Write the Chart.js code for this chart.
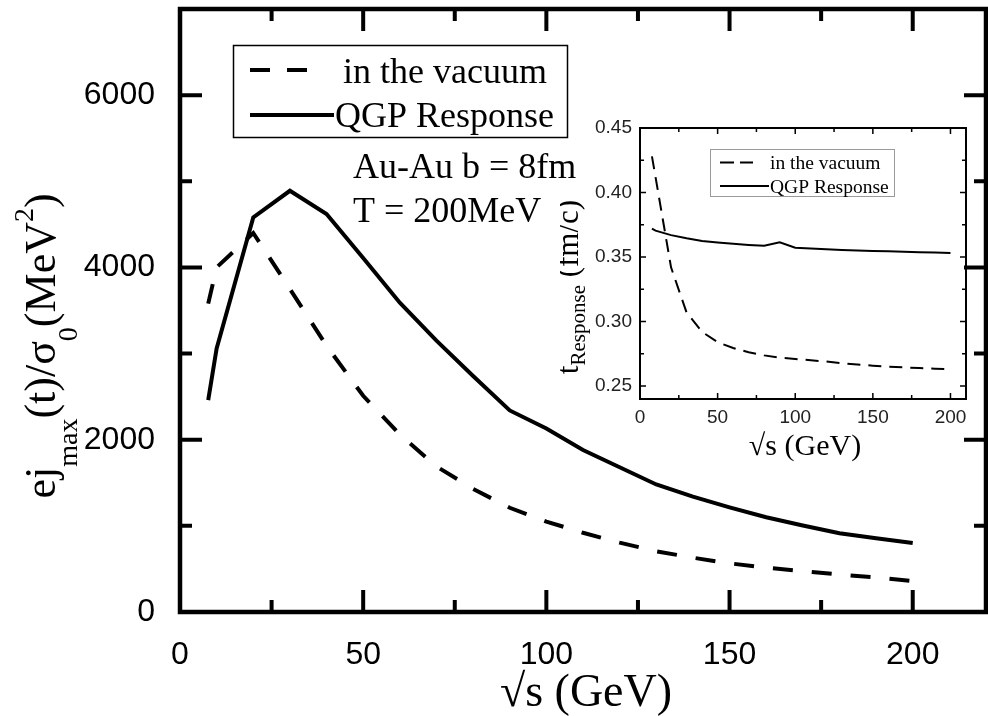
<!DOCTYPE html>
<html>
<head>
<meta charset="utf-8">
<script src="https://cdn.jsdelivr.net/npm/chart.js@4.4.1/dist/chart.umd.min.js"></script>
<style>
  html, body { margin: 0; padding: 0; background: #fff; }
  #wrap { position: relative; width: 988px; height: 716px; overflow: hidden; background: #fff; }
  #main { position: absolute; left: 0; top: 0; }
  #inset { position: absolute; left: 560px; top: 110px; }
</style>
</head>
<body>
<div id="wrap">
  <canvas id="main" width="988" height="716"></canvas>
  <canvas id="inset" width="425" height="360"></canvas>
</div>
<script>
// Collision energies (GeV)
const sqrtS = [7.7, 10, 20, 30, 40, 50, 60, 70, 80, 90, 100, 110, 120, 130, 140, 150, 160, 170, 180, 190, 200];

// Peak field strength e*j_max(t)/sigma_0 (MeV^2)
const ejVacuum = [3580, 4000, 4400, 3750, 3090, 2510, 2060, 1690, 1430, 1210, 1050, 920, 805, 705, 630, 565, 515, 475, 435, 400, 360];
const ejQGP    = [2460, 3060, 4580, 4890, 4620, 4110, 3590, 3150, 2740, 2340, 2130, 1880, 1680, 1480, 1340, 1215, 1100, 1005, 915, 855, 800];

// Response time t_Response (fm/c)
const tVacuum = [0.428, 0.412, 0.342, 0.307, 0.292, 0.284, 0.2795, 0.2762, 0.2738, 0.2720, 0.2710, 0.2700, 0.2690, 0.2678, 0.2667, 0.2658, 0.2650, 0.2645, 0.2640, 0.2635, 0.2630];
const tQGP    = [0.372, 0.3705, 0.367, 0.3645, 0.3625, 0.3613, 0.3603, 0.3594, 0.3587, 0.3614, 0.3572, 0.3566, 0.3560, 0.3555, 0.3551, 0.3547, 0.3544, 0.3541, 0.3538, 0.3535, 0.3532];

// Series names
const seriesNames = ['in the vacuum', 'QGP Response'];

// Tick values
const mainXMajor = [0, 50, 100, 150, 200];
const mainXMinor = [25, 75, 125, 175];
const mainYMajor = [0, 2000, 4000, 6000];
const mainYMinor = [1000, 3000, 5000];
const insetXMajor = [0, 50, 100, 150, 200];
const insetXMinor = [25, 75, 125, 175];
const insetYMajor = [0.25, 0.30, 0.35, 0.40, 0.45];
const insetYMinor = [0.275, 0.325, 0.375, 0.425];

const SANS = "'Liberation Sans', Arial, Helvetica, sans-serif";
const SERIF = "'Liberation Serif', 'Times New Roman', Times, serif";

function pts(xs, ys) { return xs.map((x, i) => ({ x: x, y: ys[i] })); }

// Closed frame with inward ticks on all four sides
function frameTicks(cfg) {
  return {
    id: 'frameTicks',
    afterDatasetsDraw(chart) {
      const { ctx, chartArea: a, scales } = chart;
      const sx = scales.x, sy = scales.y;
      ctx.save();
      ctx.strokeStyle = '#000';
      ctx.lineCap = 'butt';
      ctx.lineWidth = cfg.tickWidth;
      const xt = (vals, len) => vals.forEach(v => {
        const p = sx.getPixelForValue(v);
        ctx.beginPath();
        ctx.moveTo(p, a.bottom); ctx.lineTo(p, a.bottom - len);
        ctx.moveTo(p, a.top); ctx.lineTo(p, a.top + len);
        ctx.stroke();
      });
      const yt = (vals, len) => vals.forEach(v => {
        const p = sy.getPixelForValue(v);
        ctx.beginPath();
        ctx.moveTo(a.left, p); ctx.lineTo(a.left + len, p);
        ctx.moveTo(a.right, p); ctx.lineTo(a.right - len, p);
        ctx.stroke();
      });
      xt(cfg.xMajor, cfg.major); xt(cfg.xMinor, cfg.minor);
      yt(cfg.yMajor, cfg.major); yt(cfg.yMinor, cfg.minor);
      ctx.lineWidth = cfg.frameWidth;
      ctx.strokeRect(a.left, a.top, a.right - a.left, a.bottom - a.top);
      ctx.restore();
    }
  };
}

// Text runs with sub/superscripts, optionally rotated
function drawRuns(ctx, runs, cx, cy, rotate) {
  ctx.save();
  ctx.translate(cx, cy);
  if (rotate) ctx.rotate(-Math.PI / 2);
  let total = 0;
  runs.forEach(r => { ctx.font = r.size + 'px ' + SERIF; r.w = ctx.measureText(r.t).width; total += r.w; });
  let x = -total / 2;
  ctx.fillStyle = '#000';
  ctx.textBaseline = 'alphabetic';
  ctx.textAlign = 'left';
  runs.forEach(r => { ctx.font = r.size + 'px ' + SERIF; ctx.fillText(r.t, x, r.dy || 0); x += r.w; });
  ctx.restore();
}

function legendBox(ctx, o) {
  ctx.save();
  ctx.strokeStyle = o.boxColor;
  ctx.lineWidth = o.boxWidth;
  ctx.strokeRect(o.box[0], o.box[1], o.box[2], o.box[3]);
  ctx.strokeStyle = '#000';
  ctx.lineWidth = o.lineWidth;
  ctx.setLineDash(o.dash);
  ctx.beginPath(); ctx.moveTo(o.s1[0], o.s1[2]); ctx.lineTo(o.s1[1], o.s1[2]); ctx.stroke();
  ctx.setLineDash([]);
  ctx.beginPath(); ctx.moveTo(o.s2[0], o.s2[2]); ctx.lineTo(o.s2[1], o.s2[2]); ctx.stroke();
  ctx.fillStyle = '#000';
  ctx.font = o.font + 'px ' + SERIF;
  ctx.textBaseline = 'alphabetic';
  ctx.textAlign = 'left';
  ctx.fillText(seriesNames[0], o.t1[0], o.t1[1]);
  ctx.fillText(seriesNames[1], o.t2[0], o.t2[1]);
  ctx.restore();
}

const mainDecor = {
  id: 'mainDecor',
  afterDraw(chart) {
    const ctx = chart.ctx;
    // axis titles
    drawRuns(ctx, [{ t: '\u221As (GeV)', size: 46 }], 586, 706, false);
    drawRuns(ctx, [
      { t: 'ej', size: 44 }, { t: 'max', size: 28, dy: 22 },
      { t: '(t)/\u03C3', size: 44 }, { t: '0', size: 28, dy: 22 },
      { t: '(MeV', size: 44 }, { t: '2', size: 28, dy: -22 }, { t: ')', size: 44 }
    ], 55, 346, true);
    // legend
    legendBox(ctx, {
      box: [233.5, 45.5, 334, 92], boxColor: '#000', boxWidth: 1.5,
      lineWidth: 4, dash: [20, 17],
      s1: [250, 308, 70], s2: [250, 334, 115],
      t1: [343, 83], t2: [335, 127], font: 36
    });
    // conditions
    ctx.save();
    ctx.fillStyle = '#000';
    ctx.font = '36px ' + SERIF;
    ctx.textAlign = 'left';
    ctx.textBaseline = 'alphabetic';
    ctx.fillText('Au-Au b = 8fm', 353, 178);
    ctx.fillText('T = 200MeV', 353, 222);
    ctx.restore();
  }
};

const insetDecor = {
  id: 'insetDecor',
  afterDraw(chart) {
    const ctx = chart.ctx;
    drawRuns(ctx, [{ t: '\u221As (GeV)', size: 30 }], 245, 345, false);
    drawRuns(ctx, [
      { t: 't', size: 31 }, { t: 'Response', size: 21, dy: 7 }, { t: ' (fm/c)', size: 31 }
    ], 18, 177, true);
    legendBox(ctx, {
      box: [150.5, 39.5, 184, 47], boxColor: '#9a9a9a', boxWidth: 1,
      lineWidth: 2, dash: [14, 6],
      s1: [160, 193, 52.5], s2: [160, 209, 76],
      t1: [210, 59], t2: [210, 82.5], font: 19.5
    });
  }
};

function axisTicks(vals) {
  return function (scale) { scale.ticks = vals.map(v => ({ value: v })); };
}
// fixed axis box sizes; edge padding comes from layout.padding only
function fixBox(w, h) {
  return function (s) {
    if (w !== null) s.width = w;
    if (h !== null) s.height = h;
    s.paddingTop = 0; s.paddingBottom = 0; s.paddingLeft = 0; s.paddingRight = 0;
  };
}

Chart.defaults.font.family = SANS;
Chart.defaults.color = '#000';

new Chart(document.getElementById('main'), {
  type: 'line',
  data: {
    datasets: [
      { label: seriesNames[0], data: pts(sqrtS, ejVacuum), borderColor: '#000', borderWidth: 4, borderDash: [20, 19], pointRadius: 0, tension: 0, fill: false },
      { label: seriesNames[1], data: pts(sqrtS, ejQGP), borderColor: '#000', borderWidth: 4, pointRadius: 0, tension: 0, fill: false }
    ]
  },
  options: {
    responsive: false, animation: false, devicePixelRatio: 1,
    layout: { padding: { top: 9, right: 2, left: 0, bottom: 0 } },
    plugins: { legend: { display: false }, tooltip: { enabled: false }, title: { display: false } },
    scales: {
      x: {
        type: 'linear', min: 0, max: 220,
        afterBuildTicks: axisTicks(mainXMajor),
        afterFit: fixBox(null, 104),
        grid: { display: false, drawTicks: false }, border: { display: false },
        ticks: { padding: 24, maxRotation: 0, autoSkip: false, font: { size: 32, family: SANS }, color: '#000', callback: v => String(v) }
      },
      y: {
        type: 'linear', min: 0, max: 7000,
        afterBuildTicks: axisTicks(mainYMajor),
        afterFit: fixBox(180, null),
        grid: { display: false, drawTicks: false }, border: { display: false },
        ticks: { padding: 25, autoSkip: false, font: { size: 32, family: SANS }, color: '#000', callback: v => String(v) }
      }
    }
  },
  plugins: [frameTicks({ frameWidth: 4.5, tickWidth: 4, major: 22, minor: 12, xMajor: mainXMajor, xMinor: mainXMinor, yMajor: mainYMajor, yMinor: mainYMinor }), mainDecor]
});

new Chart(document.getElementById('inset'), {
  type: 'line',
  data: {
    datasets: [
      { label: seriesNames[0], data: pts(sqrtS, tVacuum), borderColor: '#000', borderWidth: 2, borderDash: [13, 8], pointRadius: 0, tension: 0, fill: false },
      { label: seriesNames[1], data: pts(sqrtS, tQGP), borderColor: '#000', borderWidth: 2, pointRadius: 0, tension: 0, fill: false }
    ]
  },
  options: {
    responsive: false, animation: false, devicePixelRatio: 1,
    layout: { padding: { top: 18, right: 19, left: 0, bottom: 0 } },
    plugins: { legend: { display: false }, tooltip: { enabled: false }, title: { display: false } },
    scales: {
      x: {
        type: 'linear', min: 0, max: 210,
        afterBuildTicks: axisTicks(insetXMajor),
        afterFit: fixBox(null, 71),
        grid: { display: false, drawTicks: false }, border: { display: false },
        ticks: { padding: 7, maxRotation: 0, autoSkip: false, font: { size: 19, family: SANS }, color: '#222', callback: v => String(v) }
      },
      y: {
        type: 'linear', min: 0.24, max: 0.45,
        afterBuildTicks: axisTicks(insetYMajor),
        afterFit: fixBox(80, null),
        grid: { display: false, drawTicks: false }, border: { display: false },
        ticks: { padding: 8, autoSkip: false, font: { size: 19, family: SANS }, color: '#222', callback: v => v.toFixed(2) }
      }
    }
  },
  plugins: [frameTicks({ frameWidth: 2, tickWidth: 1.5, major: 6, minor: 4, xMajor: insetXMajor, xMinor: insetXMinor, yMajor: insetYMajor, yMinor: insetYMinor }), insetDecor]
});
</script>
</body>
</html>
